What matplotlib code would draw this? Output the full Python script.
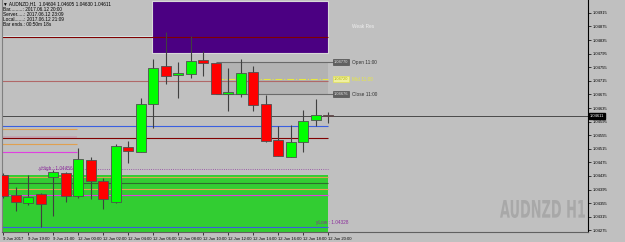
import matplotlib
matplotlib.use('Agg')
import matplotlib.pyplot as plt
import numpy as np
from matplotlib.textpath import TextPath
from matplotlib.patches import PathPatch
from matplotlib.font_manager import FontProperties
from matplotlib.transforms import Affine2D, IdentityTransform

# AUDNZD H1 bars (oldest -> newest)
opens  = [1.04438, 1.04379, 1.04356, 1.04382, 1.04432, 1.04444, 1.04376, 1.04482, 1.04420,
          1.04359, 1.04520, 1.04506, 1.04647, 1.04759, 1.04732, 1.04735, 1.04776, 1.04767,
          1.04676, 1.04676, 1.04741, 1.04647, 1.04541, 1.04491, 1.04535, 1.04600, 1.04614]
highs  = [1.04444, 1.04403, 1.04438, 1.04385, 1.04453, 1.04447, 1.04517, 1.04491, 1.04429,
          1.04529, 1.04538, 1.04664, 1.04779, 1.04859, 1.04770, 1.04847, 1.04803, 1.04767,
          1.04753, 1.04779, 1.04759, 1.04673, 1.04582, 1.04585, 1.04629, 1.04661, 1.04623]
lows   = [1.04370, 1.04332, 1.04350, 1.04285, 1.04317, 1.04359, 1.04370, 1.04367, 1.04338,
          1.04356, 1.04473, 1.04506, 1.04576, 1.04706, 1.04664, 1.04723, 1.04729, 1.04676,
          1.04626, 1.04667, 1.04626, 1.04535, 1.04494, 1.04491, 1.04506, 1.04582, 1.04591]
closes = [1.04376, 1.04359, 1.04373, 1.04353, 1.04447, 1.04376, 1.04485, 1.04420, 1.04367,
          1.04523, 1.04509, 1.04647, 1.04753, 1.04729, 1.04738, 1.04773, 1.04767, 1.04676,
          1.04682, 1.04738, 1.04644, 1.04538, 1.04494, 1.04535, 1.04597, 1.04614, 1.04611]

time_ticks = [0, 2, 4, 6, 8, 10, 12, 14, 16, 18, 20, 22, 24, 26]
time_labels = ['9 Jun 2017', '9 Jun 19:00', '9 Jun 21:00', '12 Jun 00:00', '12 Jun 02:00',
               '12 Jun 04:00', '12 Jun 06:00', '12 Jun 08:00', '12 Jun 10:00', '12 Jun 12:00',
               '12 Jun 14:00', '12 Jun 16:00', '12 Jun 18:00', '12 Jun 20:00']

price_ticks = [1.04915, 1.04875, 1.04835, 1.04795, 1.04755, 1.04715, 1.04675, 1.04635,
               1.04595, 1.04555, 1.04515, 1.04475, 1.04435, 1.04395, 1.04355, 1.04315, 1.04275]
last_price = 1.04611

# levels drawn by indicators
box_top, box_mid, box_bot = 1.04770, 1.04720, 1.04676
zone_hi = 1.04797
y_high = 1.04456
y_low = 1.04328
green_top = 1.04438

bg = '#c0c0c0'
small = ['Liberation Sans', 'DejaVu Sans']
fig = plt.figure(figsize=(6.25, 2.42), dpi=100, facecolor=bg)
ax = fig.add_axes([2/625, 10/242, 586/625, 232/242], facecolor=bg)

x0, x1 = -0.08, 46.8
ymin, ymax = 1.04270, 1.04953
ax.set_xlim(x0, x1)
ax.set_ylim(ymin, ymax)
last = len(opens) - 1

# supply zone (indigo) and demand zone (green)
ax.fill_between([11.9, last], zone_hi, ymax - 0.00003, color='#4b0082', ec='#d8d8d8', lw=0.8, zorder=1)
ax.fill_between([x0, last], ymin, green_top, color='#32cd32', lw=0, zorder=1)

# session box
ax.fill_between([17.0, last], box_bot, box_top, color='#b3b3b3', lw=0, zorder=1)
ax.hlines([box_top, box_bot], 17.0, last + 0.4, color='#6a6a6a', lw=0.8, zorder=2)
ax.hlines(box_mid, 17.0, last, color='#e8e840', lw=0.8, ls='-.', zorder=2)

# horizontal levels
ax.hlines(1.04847, x0, 11.9, color='#d8ecec', lw=0.8, zorder=2)
ax.hlines(1.04844, x0, last, color='#800000', lw=0.8, zorder=2)
ax.hlines(1.04714, x0, last, color='#b06868', lw=0.8, zorder=2)
ax.hlines(last_price, x0, x1, color='#4a4a4a', lw=0.7, zorder=2)
ax.hlines(1.04582, x0, last, color='#3a5fe0', lw=0.8, zorder=2)
ax.hlines(1.04573, x0, 5.9, color='#e0a050', lw=0.8, zorder=2)
ax.hlines(1.04551, x0, 5.9, color='#c4a8b4', lw=1.4, zorder=2)
ax.hlines(1.04547, x0, last, color='#800000', lw=0.8, zorder=2)
ax.hlines(1.04529, x0, 5.9, color='#e0a050', lw=0.8, zorder=2)
ax.hlines(1.04506, x0, 5.9, color='#e040e0', lw=0.8, zorder=2)
ax.hlines(y_high, 2.8, last, color='#9040a0', lw=0.6, ls=':', zorder=2)
ax.hlines(1.04432, x0, last, color='#e0a050', lw=0.8, zorder=2)
ax.hlines(1.04415, x0, last, color='#2e6b2e', lw=0.8, zorder=2)
ax.hlines(1.04397, x0, last, color='#e0a050', lw=0.8, zorder=2)
ax.hlines(1.04379, x0, last, color='#e040e0', lw=0.8, zorder=2)
ax.hlines(1.04285, x0, last, color='#3a5fe0', lw=0.8, zorder=2)

# candles
idx = np.arange(len(opens))
o = np.array(opens); c = np.array(closes)
up = c >= o
ax.vlines(idx, lows, highs, color='#404040', lw=0.8, zorder=3)
body_lo = np.minimum(o, c)
body_h = np.maximum(np.abs(c - o), 0.00004)
ax.bar(idx, body_h, bottom=body_lo, width=0.8,
       color=np.where(up, '#00ff00', '#ff0000'), edgecolor='#505050', lw=0.6, zorder=4)

# labels on objects
fs = 3.4
ax.text(2.9, y_high, 'yHigh : 1.04456', color='#8a2c9a', fontsize=fs, va='center', zorder=5, family=small)
ax.text(last - 1.0, 1.04290, 'yLow : %.5f' % y_low, color='#8a2c9a', fontsize=fs, va='bottom',
        zorder=5, family=small)
for val, name, fc, ec, tc, nc in [(box_top, 'Open 11:00', '#606060', '#404040', '#e0e0e0', '#303030'),
                                  (box_mid, 'Mid 11:00', '#f0f0a0', '#e8e840', '#b0b000', '#e8e840'),
                                  (box_bot, 'Close 11:00', '#606060', '#404040', '#e0e0e0', '#303030')]:
    ax.text(last + 0.45, val, '%.5f' % val, fontsize=2.9, color=tc, va='center', family=small,
            bbox=dict(boxstyle='square,pad=0.25', fc=fc, ec=ec, lw=0.4), zorder=5)
    ax.text(last + 1.9, val, name, fontsize=fs, color=nc, va='center', zorder=5, family=small)
ax.text(27.9, 1.04875, 'Weak Res', fontsize=fs, color='#f0f0f0', va='center', zorder=5, family=small)

# axes styling
ax.spines['top'].set_visible(False)
ax.spines['left'].set_color('#808080')
ax.spines['bottom'].set_color('#606060')
ax.spines['right'].set_color('#000000')
ax.spines['right'].set_linewidth(0.8)
ax.yaxis.tick_right()
ax.set_yticks(price_ticks)
ax.set_yticklabels(['%.5f' % p for p in price_ticks], family=small)
ax.set_xticks(time_ticks)
ax.set_xticklabels(time_labels, ha='left', family=small)
ax.tick_params(axis='both', labelsize=3.0, length=2, width=0.5, pad=1.5, colors='black')
ax.text(1.003, (last_price - ymin) / (ymax - ymin), '%.5f' % last_price, transform=ax.transAxes,
        fontsize=3.0, color='white', va='center', ha='left', zorder=6, family=small,
        bbox=dict(boxstyle='square,pad=0.3', fc='black', ec='black'))

# info block
info = ['\u25bc AUDNZD,H1  1.04604 1.04605 1.04630 1.04611',
        'Bar.........: 2017.06.12 20:00',
        'Server.....: 2017.06.12 23:09',
        'Local.......: 2017.06.12 21:09',
        'Bar ends.: 00:50m 18s']
for i, line in enumerate(info):
    fig.text(3/625, 1 - (4 + 5.2 * i) / 242, line, fontsize=3.4, color='black', va='center',
             family=small)

# watermark, squeezed to a condensed look
tp = TextPath((0, 0), 'AUDNZD H1', size=20, prop=FontProperties(family='DejaVu Sans', weight='bold'))
bb = tp.get_extents()
sx = 85 / bb.width
sy = 18 / bb.height
tr = Affine2D().translate(-bb.x0, -bb.y0).scale(sx, sy).translate(500, 242 - 218)
fig.patches.append(PathPatch(tr.transform_path(tp), fc='#a8a8a8', ec='none',
                             transform=IdentityTransform(), figure=fig))

fig.savefig('out.png', dpi=100, facecolor=bg)
